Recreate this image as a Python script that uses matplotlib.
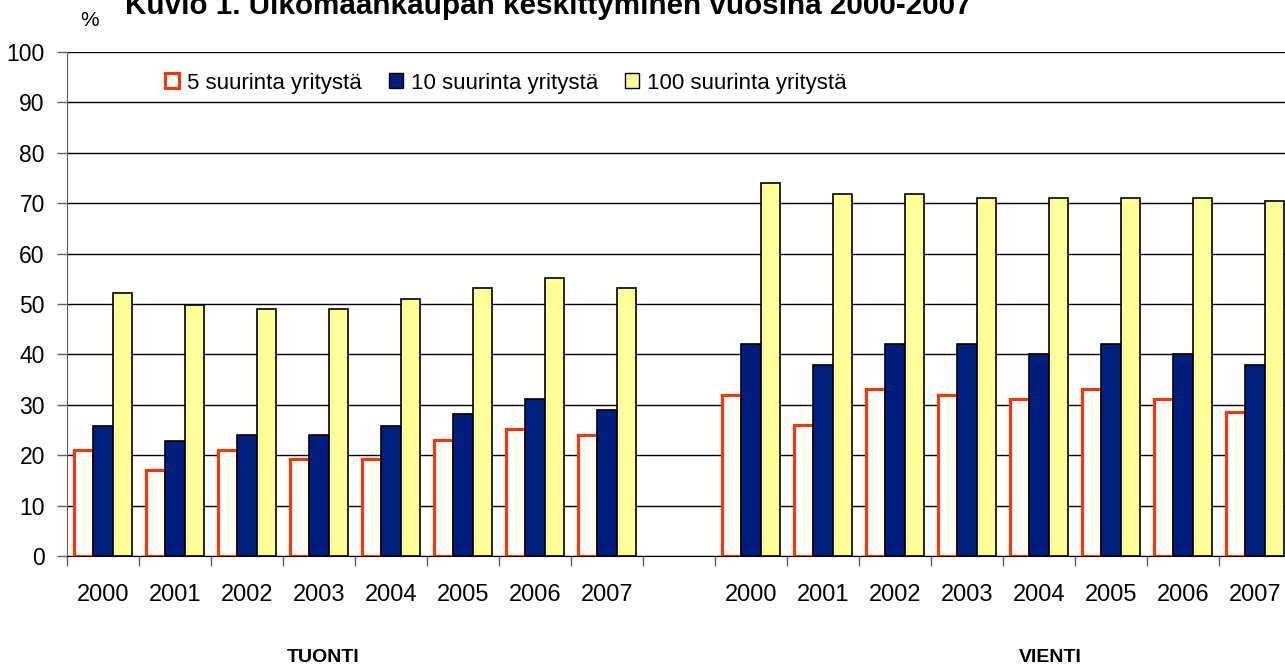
import numpy as np
import matplotlib
matplotlib.use("Agg")
import matplotlib.pyplot as plt
from matplotlib.patches import Patch

plt.rcParams['font.family'] = ['Liberation Sans', 'DejaVu Sans']

# Data
years = ["2000", "2001", "2002", "2003", "2004", "2005", "2006", "2007"]
series_names = ["5 suurinta yritystä", "10 suurinta yritystä", "100 suurinta yritystä"]

tuonti_5 = [21, 17, 21, 19.2, 19.2, 23, 25.2, 24]
tuonti_10 = [25.8, 22.8, 24, 24, 25.8, 28.1, 31.1, 28.9]
tuonti_100 = [52.2, 49.9, 49.1, 49.1, 51, 53.2, 55.1, 53.2]

vienti_5 = [32, 25.9, 33.1, 32, 31.2, 33.1, 31.2, 28.5]
vienti_10 = [42, 37.8, 42, 42, 40, 42, 40, 37.8]
vienti_100 = [74.1, 71.9, 71.9, 71.1, 71.1, 71.1, 71.1, 70.4]

group_labels = ["TUONTI", "VIENTI"]

# one empty category between the two groups
labels = years + [""] + years
s5 = tuonti_5 + [np.nan] + vienti_5
s10 = tuonti_10 + [np.nan] + vienti_10
s100 = tuonti_100 + [np.nan] + vienti_100

W, H = 1285, 668
fig = plt.figure(figsize=(W / 100, H / 100), dpi=100)
ax = fig.add_axes([67 / W, 1 - 556 / H, (1291 - 67) / W, (556 - 52) / H])

x = np.arange(len(labels))
bw = 0.265

red = "#FF3300"
navy = "#001F80"
yellow = "#FFFF99"

ax.bar(x - bw, s5, bw, color="white", edgecolor=red, linewidth=2.2, zorder=3)
ax.bar(x, s10, bw, color=navy, edgecolor="black", linewidth=1.2, zorder=3)
ax.bar(x + bw, s100, bw, color=yellow, edgecolor="black", linewidth=1.2, zorder=3)

ax.set_xlim(-0.5, len(labels) - 0.5)
ax.set_ylim(0, 100)
ax.set_yticks(range(0, 101, 10))
ax.yaxis.grid(True, color="black", linewidth=1.0, zorder=0)
ax.set_axisbelow(True)

ax.set_xticks(x)
ax.set_xticklabels(labels, fontsize=17)
ax.set_xticks(np.arange(-0.5, len(labels), 1), minor=True)
ax.tick_params(axis="x", which="major", length=0, pad=20)
ax.tick_params(axis="x", which="minor", length=7, width=1, color="#606060")
ax.tick_params(axis="y", length=7, width=1, color="#606060", pad=9, labelsize=16.5)

for side in ["top", "right"]:
    ax.spines[side].set_visible(False)
ax.spines["left"].set_color("#606060")
ax.spines["bottom"].set_color("black")

# group labels under the axis
fig.text(323 / W, 1 - 657 / H, group_labels[0], ha="center", va="center",
         fontsize=14, fontweight="bold")
fig.text(1050 / W, 1 - 657 / H, group_labels[1], ha="center", va="center",
         fontsize=14, fontweight="bold")

fig.text(90 / W, 1 - 20 / H, "%", ha="center", va="center", fontsize=15)
fig.text(125 / W, 1 - 14 / H, "Kuvio 1. Ulkomaankaupan keskittyminen vuosina 2000-2007",
         ha="left", va="baseline", fontsize=21.3, fontweight="bold")

handles = [
    Patch(facecolor="white", edgecolor=red, linewidth=2.2),
    Patch(facecolor=navy, edgecolor="black", linewidth=1),
    Patch(facecolor=yellow, edgecolor="black", linewidth=1),
]
fig.legend(handles, series_names, loc="center left",
           bbox_to_anchor=(165 / W, 1 - 83 / H), ncol=3, frameon=False,
           fontsize=16, handlelength=0.65, handleheight=0.65,
           handletextpad=0.35, columnspacing=1.2, borderaxespad=0, borderpad=0)

fig.savefig("out.png", dpi=100)
